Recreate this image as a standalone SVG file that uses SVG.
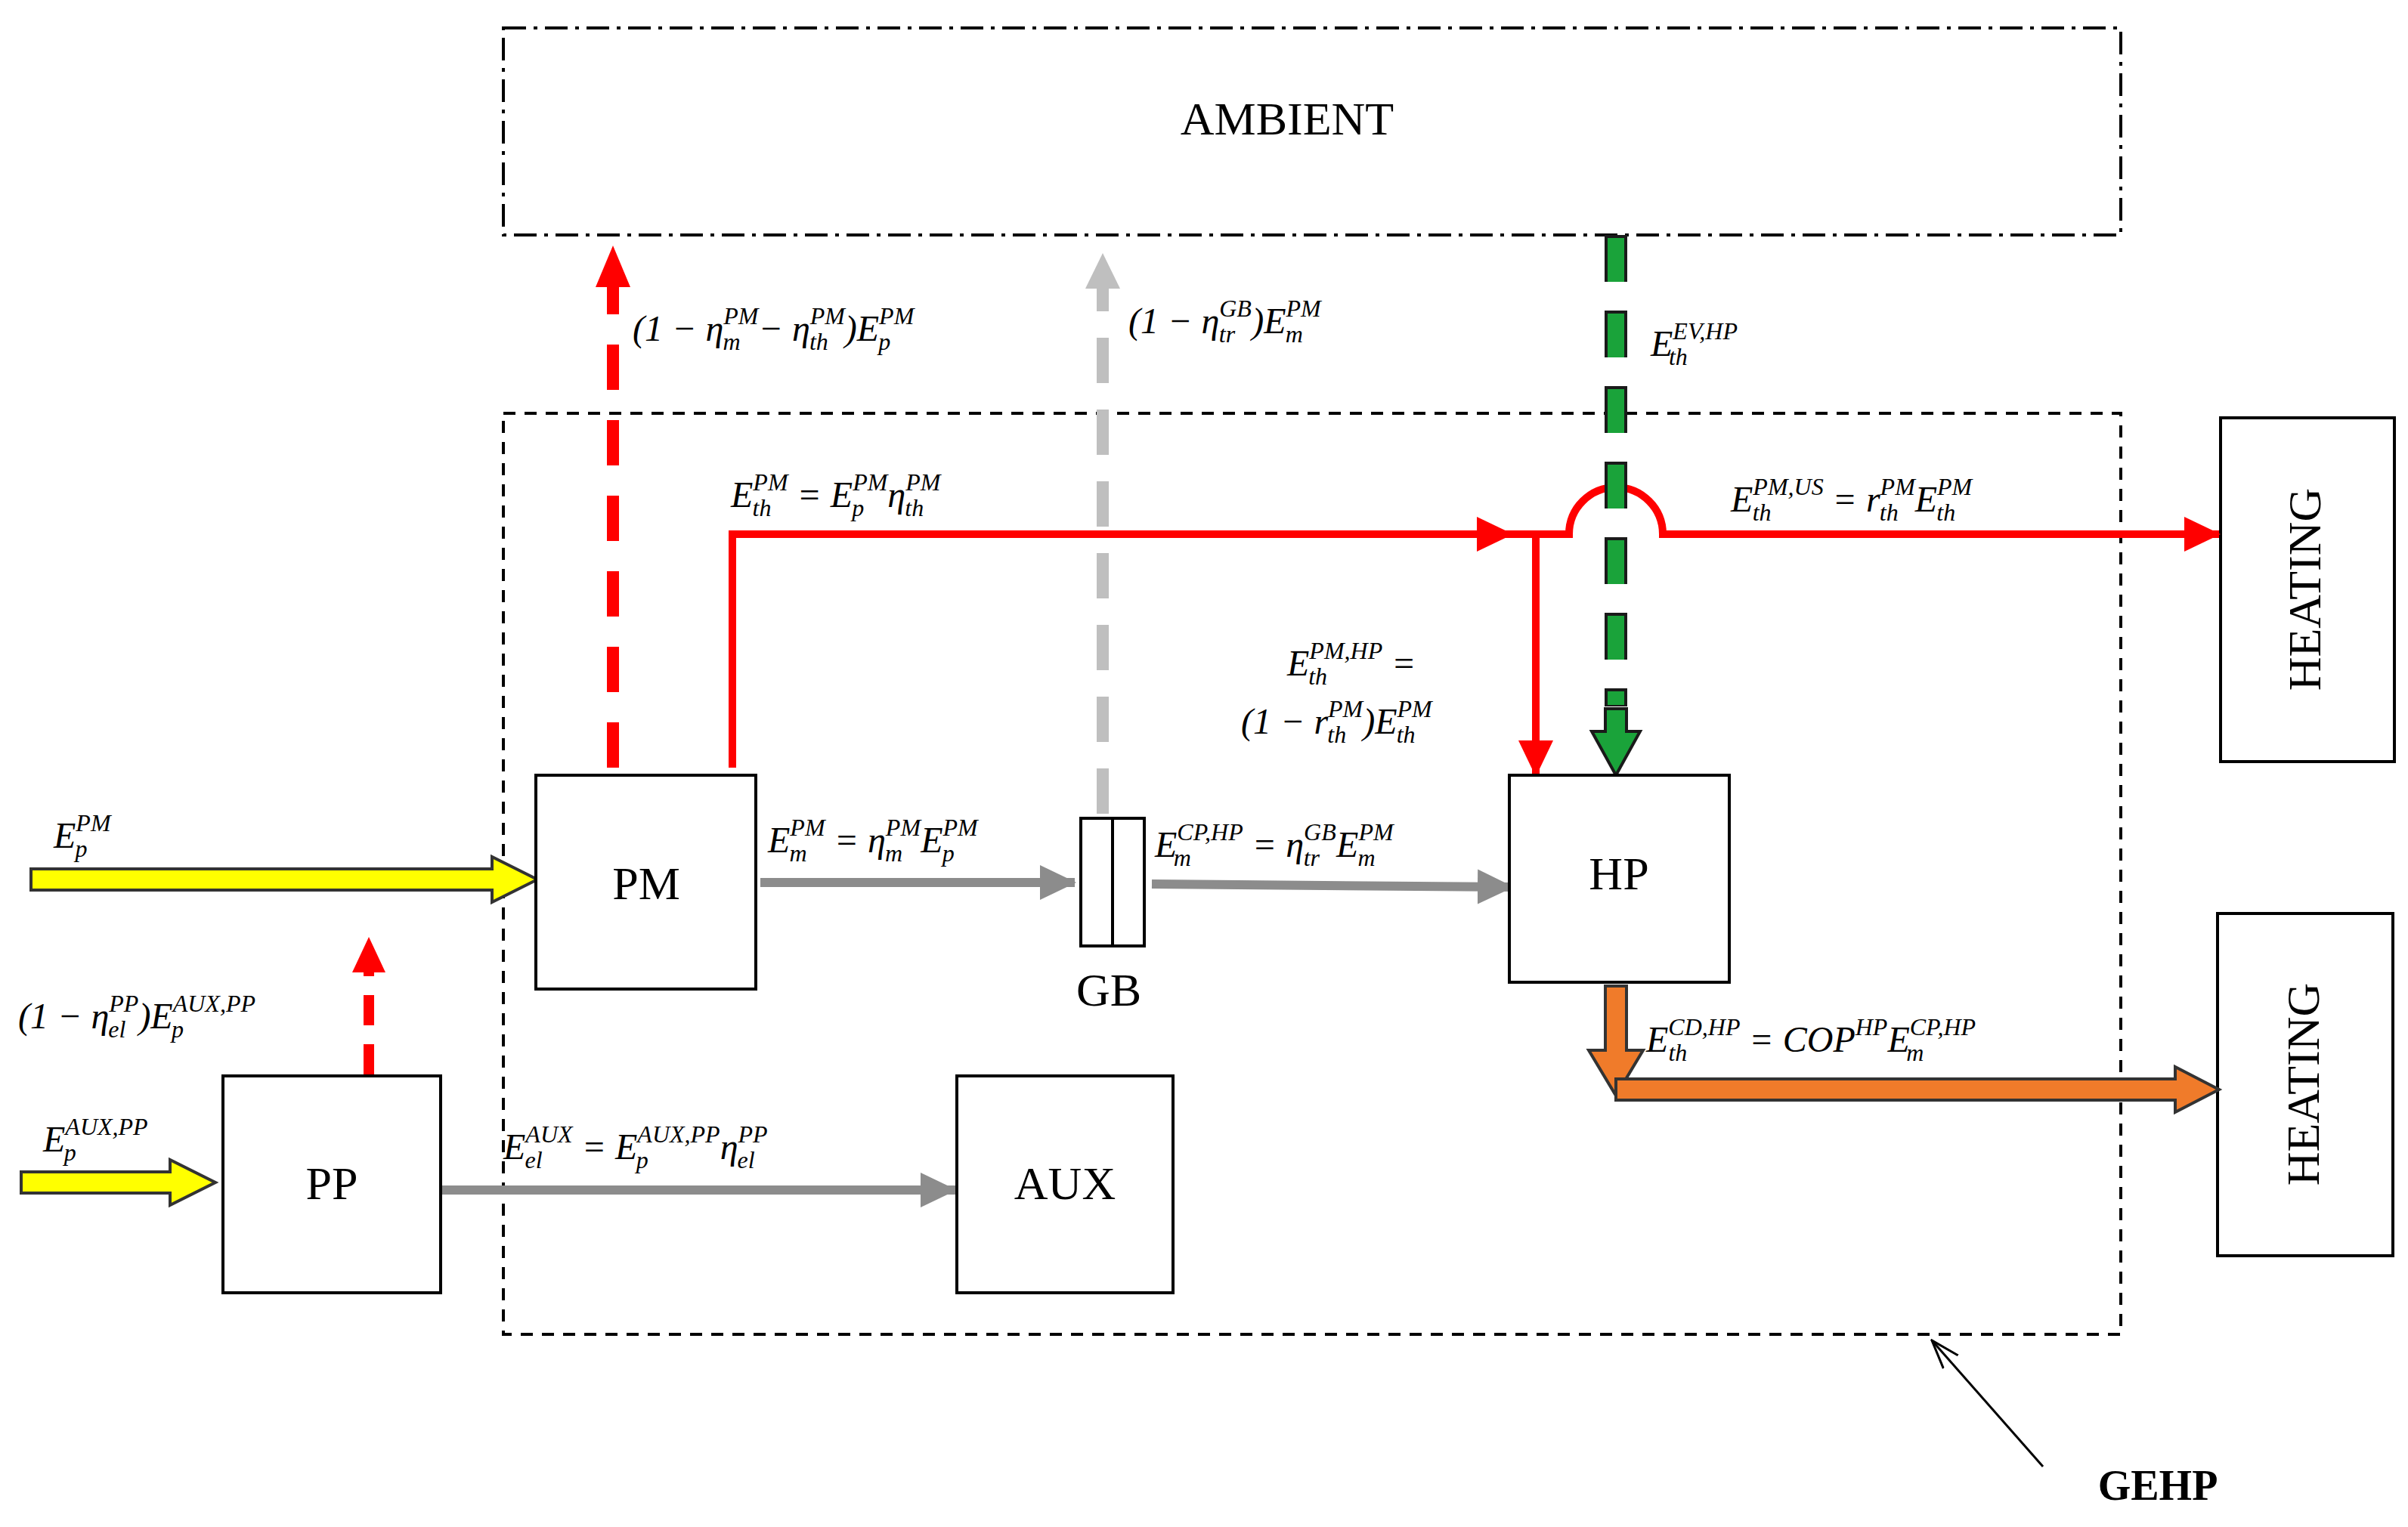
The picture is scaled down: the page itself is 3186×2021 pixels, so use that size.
<svg xmlns="http://www.w3.org/2000/svg" width="3186" height="2021" viewBox="0 0 3186 2021">
<style>
.box{fill:#fff;stroke:#000;stroke-width:4}
.bt{font-family:"Liberation Serif",serif;font-size:62px;text-anchor:middle;fill:#000}
.m{font-family:"Liberation Serif",serif;font-size:48px;font-style:italic;fill:#000}
.s{font-size:32px}
.r{stroke:#f00;stroke-width:10;fill:none}
.g{stroke:#8c8c8c;stroke-width:12;fill:none}
</style>
<defs>
<marker id="ar" markerUnits="userSpaceOnUse" markerWidth="50" markerHeight="50" refX="46" refY="25" orient="auto"><path d="M0,2 L48,25 L0,48 Z" fill="#f00"/></marker>
<marker id="ag" markerUnits="userSpaceOnUse" markerWidth="50" markerHeight="50" refX="46" refY="25" orient="auto"><path d="M0,2 L48,25 L0,48 Z" fill="#8c8c8c"/></marker>
<marker id="alg" markerUnits="userSpaceOnUse" markerWidth="50" markerHeight="50" refX="46" refY="25" orient="auto"><path d="M0,2 L48,25 L0,48 Z" fill="#bfbfbf"/></marker>
<marker id="ak" markerUnits="userSpaceOnUse" markerWidth="40" markerHeight="30" refX="38" refY="15" orient="auto"><path d="M0,2 L38,15 L0,28" fill="none" stroke="#000" stroke-width="3"/></marker>
</defs>

<g id="ambient"><rect x="666" y="37" width="2140" height="274" fill="none" stroke="#000" stroke-width="4" stroke-dasharray="30,10,5,10"/><text class="bt" x="1703" y="178">AMBIENT</text></g>
<g id="gehp"><rect x="666" y="547" width="2140" height="1219" fill="none" stroke="#000" stroke-width="4" stroke-dasharray="16,12"/><text x="2855" y="1985" font-family="Liberation Serif,serif" font-size="56" font-weight="bold" text-anchor="middle">GEHP</text></g>
<g id="heating1"><rect class="box" x="2938" y="553" width="230" height="455"/><text class="bt" transform="translate(3070,780) rotate(-90)">HEATING</text></g>
<g id="heating2"><rect class="box" x="2934" y="1209" width="232" height="453"/><text class="bt" transform="translate(3068,1435) rotate(-90)">HEATING</text></g>

<g id="connectors">
<!-- yellow inputs -->
<polygon points="41,1150 651,1150 651,1134 711,1164 651,1194 651,1178 41,1178" fill="#ff0" stroke="#333" stroke-width="4"/>
<polygon points="28,1551 225,1551 225,1535 285,1565 225,1595 225,1579 28,1579" fill="#ff0" stroke="#333" stroke-width="4"/>
<!-- red dashed losses -->
<line x1="811" y1="1016" x2="811" y2="378" stroke="#f00" stroke-width="16" stroke-dasharray="60,40"/>
<polygon points="788,380 834,380 811,325" fill="#f00"/>
<line x1="488" y1="1422" x2="488" y2="1285" stroke="#f00" stroke-width="14" stroke-dasharray="40,25"/>
<polygon points="466,1287 510,1287 488,1240" fill="#f00"/>
<!-- gray dashed -->
<line x1="1459" y1="1077" x2="1459" y2="380" stroke="#bfbfbf" stroke-width="16" stroke-dasharray="60,35"/>
<polygon points="1436,382 1482,382 1459,335" fill="#bfbfbf"/>
<!-- red thermal -->
<path class="r" d="M969,1016 L969,707 L2000,707" marker-end="url(#ar)"/>
<path class="r" d="M2000,707 L2076,707 A62,62 0 0 1 2200,707 L2936,707" marker-end="url(#ar)"/>
<path class="r" d="M2032,707 L2032,1026" marker-end="url(#ar)"/>
<!-- green -->
<line x1="2138" y1="311" x2="2138" y2="935" stroke="#1a1a1a" stroke-width="30" stroke-dasharray="62,38"/>
<line x1="2138" y1="313" x2="2138" y2="933" stroke="#1aa33a" stroke-width="22" stroke-dasharray="58,42" stroke-dashoffset="-2"/>
<polygon points="2124,938 2152,938 2152,968 2170,968 2138,1026 2106,968 2124,968" fill="#1aa33a" stroke="#1a1a1a" stroke-width="4"/>
<!-- gray mechanical -->
<path class="g" d="M1006,1168 L1422,1168" marker-end="url(#ag)"/>
<path class="g" d="M1524,1170 L2001,1174" marker-end="url(#ag)"/>
<path class="g" d="M583,1575 L1264,1575" marker-end="url(#ag)"/>
<!-- orange -->
<polygon points="2124,1305 2152,1305 2152,1390 2174,1390 2138,1450 2102,1390 2124,1390" fill="#f07b2a" stroke="#333" stroke-width="4"/>
<polygon points="2138,1428 2878,1428 2878,1412 2936,1442 2878,1472 2878,1456 2138,1456" fill="#f07b2a" stroke="#333" stroke-width="4"/>
<!-- GEHP pointer -->
<line x1="2703" y1="1941" x2="2556" y2="1774" stroke="#000" stroke-width="3" marker-end="url(#ak)"/>
</g>

<g id="pm"><rect class="box" x="709" y="1026" width="291" height="283"/><text class="bt" x="855" y="1190">PM</text></g>
<g id="pp"><rect class="box" x="295" y="1424" width="288" height="287"/><text class="bt" x="439" y="1587">PP</text></g>
<g id="aux"><rect class="box" x="1266" y="1424" width="286" height="287"/><text class="bt" x="1409" y="1587">AUX</text></g>
<g id="hp"><rect class="box" x="1997" y="1026" width="291" height="274"/><text class="bt" x="2142" y="1177">HP</text></g>
<g id="gb"><rect class="box" x="1430" y="1083" width="84" height="169"/><line x1="1472" y1="1083" x2="1472" y2="1252" stroke="#000" stroke-width="4"/><text class="bt" x="1467" y="1331">GB</text></g>

<g id="labels">
<text class="m" x="837" y="451">(1 − η<tspan class="s" dy="-22">PM</tspan><tspan class="s" dx="-47" dy="34">m</tspan><tspan dx="24" dy="-12">− η</tspan><tspan class="s" dy="-22">PM</tspan><tspan class="s" dx="-47" dy="34">th</tspan><tspan dx="22" dy="-12">)E</tspan><tspan class="s" dy="-22">PM</tspan><tspan class="s" dx="-47" dy="34">p</tspan></text>
<text class="m" x="1493" y="441">(1 − η<tspan class="s" dy="-22">GB</tspan><tspan class="s" dx="-43" dy="34">tr</tspan><tspan dx="22" dy="-12">)E</tspan><tspan class="s" dy="-22">PM</tspan><tspan class="s" dx="-47" dy="34">m</tspan></text>
<text class="m" x="2184" y="471">E<tspan class="s" dy="-22">EV,HP</tspan><tspan class="s" dx="-91" dy="34">th</tspan></text>
<text class="m" x="967" y="671">E<tspan class="s" dy="-22">PM</tspan><tspan class="s" dx="-47" dy="34">th</tspan><tspan dx="22" dy="-12"> = E</tspan><tspan class="s" dy="-22">PM</tspan><tspan class="s" dx="-47" dy="34">p</tspan><tspan dx="31" dy="-12">η</tspan><tspan class="s" dy="-22">PM</tspan><tspan class="s" dx="-47" dy="34">th</tspan></text>
<text class="m" x="2290" y="677">E<tspan class="s" dy="-22">PM,US</tspan><tspan class="s" dx="-94" dy="34">th</tspan><tspan dx="69" dy="-12"> = r</tspan><tspan class="s" dy="-22">PM</tspan><tspan class="s" dx="-47" dy="34">th</tspan><tspan dx="22" dy="-12">E</tspan><tspan class="s" dy="-22">PM</tspan><tspan class="s" dx="-47" dy="34">th</tspan></text>
<text class="m" x="1703" y="894">E<tspan class="s" dy="-22">PM,HP</tspan><tspan class="s" dx="-98" dy="34">th</tspan><tspan dx="73" dy="-12"> =</tspan></text>
<text class="m" x="1642" y="971">(1 − r<tspan class="s" dy="-22">PM</tspan><tspan class="s" dx="-47" dy="34">th</tspan><tspan dx="22" dy="-12">)E</tspan><tspan class="s" dy="-22">PM</tspan><tspan class="s" dx="-47" dy="34">th</tspan></text>
<text class="m" x="71" y="1122">E<tspan class="s" dy="-22">PM</tspan><tspan class="s" dx="-47" dy="34">p</tspan></text>
<text class="m" x="1016" y="1128">E<tspan class="s" dy="-22">PM</tspan><tspan class="s" dx="-47" dy="34">m</tspan><tspan dx="24" dy="-12"> = η</tspan><tspan class="s" dy="-22">PM</tspan><tspan class="s" dx="-47" dy="34">m</tspan><tspan dx="24" dy="-12">E</tspan><tspan class="s" dy="-22">PM</tspan><tspan class="s" dx="-47" dy="34">p</tspan></text>
<text class="m" x="1528" y="1134">E<tspan class="s" dy="-22">CP,HP</tspan><tspan class="s" dx="-92" dy="34">m</tspan><tspan dx="69" dy="-12"> = η</tspan><tspan class="s" dy="-22">GB</tspan><tspan class="s" dx="-43" dy="34">tr</tspan><tspan dx="22" dy="-12">E</tspan><tspan class="s" dy="-22">PM</tspan><tspan class="s" dx="-47" dy="34">m</tspan></text>
<text class="m" x="24" y="1361">(1 − η<tspan class="s" dy="-22">PP</tspan><tspan class="s" dx="-40" dy="34">el</tspan><tspan dx="17" dy="-12">)E</tspan><tspan class="s" dy="-22">AUX,PP</tspan><tspan class="s" dx="-111" dy="34">p</tspan></text>
<text class="m" x="2178" y="1392">E<tspan class="s" dy="-22">CD,HP</tspan><tspan class="s" dx="-95" dy="34">th</tspan><tspan dx="70" dy="-12"> = COP</tspan><tspan class="s" dy="-22">HP</tspan><tspan dy="22">E</tspan><tspan class="s" dy="-22">CP,HP</tspan><tspan class="s" dx="-92" dy="34">m</tspan></text>
<text class="m" x="57" y="1524">E<tspan class="s" dy="-22">AUX,PP</tspan><tspan class="s" dx="-111" dy="34">p</tspan></text>
<text class="m" x="666" y="1534">E<tspan class="s" dy="-22">AUX</tspan><tspan class="s" dx="-63" dy="34">el</tspan><tspan dx="40" dy="-12"> = E</tspan><tspan class="s" dy="-22">AUX,PP</tspan><tspan class="s" dx="-111" dy="34">p</tspan><tspan dx="95" dy="-12">η</tspan><tspan class="s" dy="-22">PP</tspan><tspan class="s" dx="-40" dy="34">el</tspan></text>
</g>
</svg>
